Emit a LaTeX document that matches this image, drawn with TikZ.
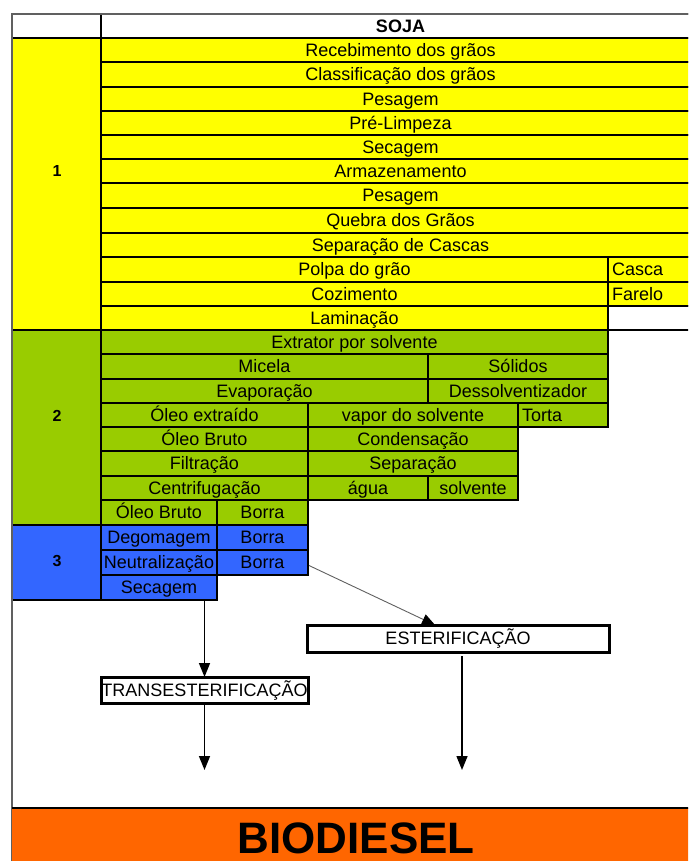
\documentclass[tikz,border=0pt]{standalone}
\usepackage{fontspec}
\setmainfont{Liberation Sans}
\usetikzlibrary{arrows.meta,calc}

\definecolor{soyyellow}{HTML}{FFFF00}
\definecolor{soygreen}{HTML}{99CC00}
\definecolor{soyblue}{HTML}{3366FF}
\definecolor{soyorange}{HTML}{FF6600}
\definecolor{framegray}{HTML}{606060}

\tikzset{
  cellbox/.style={draw=black, line width=2pt, inner sep=0pt, outer sep=0pt,
    text height=12.9pt, text depth=0pt, font=\fontsize{18}{20}\selectfont},
  leftcell/.style={align=left},
  seclabel/.style={inner sep=0pt, font=\fontsize{16}{18}\selectfont\bfseries},
  procbox/.style={draw=black, line width=3pt, fill=white, inner sep=0pt, outer sep=0pt,
    text height=12.9pt, text depth=0pt, font=\fontsize{18}{20}\selectfont},
  arr/.style={line width=1.5pt, -{Triangle[length=14pt,width=11pt]}},
  thinarr/.style={draw=framegray, line width=0.9pt, -{Triangle[length=13pt,width=11pt,color=black]}}
}

% \tabcell[options]{name}{x1}{y1}{x2}{y2}{fill}{text}
\newcommand{\tabcell}[8][]{%
  \node[cellbox, fill=#7, minimum width={#5-#3}, minimum height={#6-#4}, #1]
    (#2) at ({(#3+#5)/2},{(#4+#6)/2}) {#8};}

\begin{document}
\begin{tikzpicture}[x=1pt,y=-1pt]
\clip (0,0) rectangle (688,861);
\fill[white] (0,0) rectangle (688,861);

% header
\tabcell{hleft}{12}{14}{101}{38}{white}{}
\tabcell{soja}{101}{14}{700}{38}{white}{\bfseries SOJA}

% stage 1: grain preparation
\tabcell{s1}{12}{38}{101}{330}{soyyellow}{}
\node[seclabel] (n1) at (57,171) {1};
\tabcell{a1}{101}{38}{700}{62}{soyyellow}{Recebimento dos grãos}
\tabcell{a2}{101}{62}{700}{87}{soyyellow}{Classificação dos grãos}
\tabcell{a3}{101}{87}{700}{111}{soyyellow}{Pesagem}
\tabcell{a4}{101}{111}{700}{135}{soyyellow}{Pré-Limpeza}
\tabcell{a5}{101}{135}{700}{159}{soyyellow}{Secagem}
\tabcell{a6}{101}{159}{700}{183}{soyyellow}{Armazenamento}
\tabcell{a7}{101}{183}{700}{208}{soyyellow}{Pesagem}
\tabcell{a8}{101}{208}{700}{233}{soyyellow}{Quebra dos Grãos}
\tabcell{a9}{101}{233}{700}{257}{soyyellow}{Separação de Cascas}
\tabcell{a10}{101}{257}{608}{282}{soyyellow}{Polpa do grão}
\tabcell[leftcell, text width=84pt]{casca}{608}{257}{700}{282}{soyyellow}{Casca}
\tabcell{a11}{101}{282}{608}{306}{soyyellow}{Cozimento}
\tabcell[leftcell, text width=84pt]{farelo}{608}{282}{700}{306}{soyyellow}{Farelo}
\tabcell{a12}{101}{306}{608}{330}{soyyellow}{Laminação}
\tabcell{blank}{608}{306}{700}{330}{white}{}

% stage 2: solvent extraction
\tabcell{s2}{12}{330}{101}{525}{soygreen}{}
\node[seclabel] (n2) at (57,416) {2};
\tabcell{b1}{101}{330}{608}{354}{soygreen}{Extrator por solvente}
\tabcell{b2}{101}{354}{428}{379}{soygreen}{Micela}
\tabcell{solidos}{428}{354}{608}{379}{soygreen}{Sólidos}
\tabcell{b3}{101}{379}{428}{403}{soygreen}{Evaporação}
\tabcell{dessolv}{428}{379}{608}{403}{soygreen}{Dessolventizador}
\tabcell{b4}{101}{403}{308}{427}{soygreen}{Óleo extraído}
\tabcell{vapor}{308}{403}{518}{427}{soygreen}{vapor do solvente}
\tabcell[leftcell, text width=82pt]{torta}{518}{403}{608}{427}{soygreen}{Torta}
\tabcell{b5}{101}{427}{308}{451}{soygreen}{Óleo Bruto}
\tabcell{cond}{308}{427}{518}{451}{soygreen}{Condensação}
\tabcell{b6}{101}{451}{308}{476}{soygreen}{Filtração}
\tabcell{separ}{308}{451}{518}{476}{soygreen}{Separação}
\tabcell{b7}{101}{476}{308}{500}{soygreen}{Centrifugação}
\tabcell{agua}{308}{476}{428}{500}{soygreen}{água}
\tabcell{solv}{428}{476}{518}{500}{soygreen}{solvente}
\tabcell{b8}{101}{500}{217}{525}{soygreen}{Óleo Bruto}
\tabcell{borra2}{217}{500}{308}{525}{soygreen}{Borra}

% stage 3: refining
\tabcell{s3}{12}{525}{101}{600}{soyblue}{}
\node[seclabel] (n3) at (57,561) {3};
\tabcell{c1}{101}{525}{217}{550}{soyblue}{Degomagem}
\tabcell{borra3a}{217}{525}{308}{550}{soyblue}{Borra}
\tabcell{c2}{101}{550}{217}{575}{soyblue}{Neutralização}
\tabcell{borra3}{217}{550}{308}{575}{soyblue}{Borra}
\tabcell{sec3}{101}{575}{217}{600}{soyblue}{Secagem}

% outer frame
\draw[framegray, line width=1.2pt] (12,861) -- (12,14) -- (700,14);

% reactions
\node[procbox, minimum width=207, minimum height=26] (trans) at (204.5,690) {TRANSESTERIFICAÇÃO};
\node[procbox, minimum width=302, minimum height=27] (est) at (458,638.5) {ESTERIFICAÇÃO};

\coordinate (tend) at (204.5,770);
\coordinate (eend) at (462,770);

\draw[arr] (trans.north |- sec3.south) -- (trans.north);
\draw[thinarr] ($(borra3.east)+(1,3)$) -- ($(est.north west)!0.424!(est.north east)$);
\draw[arr] (trans.south) -- (tend);
\draw[arr] ($(est.south -| eend)+(0,4)$) -- (eend);

% product band
\fill[soyorange] (12,808) rectangle (700,875);
\draw[black, line width=2pt] (12,808) -- (700,808);
\node[inner sep=0pt, text height=31.5pt, text depth=0pt,
  font=\fontsize{44}{48}\selectfont\bfseries] (bio) at (356,838) {BIODIESEL};
\end{tikzpicture}
\end{document}
